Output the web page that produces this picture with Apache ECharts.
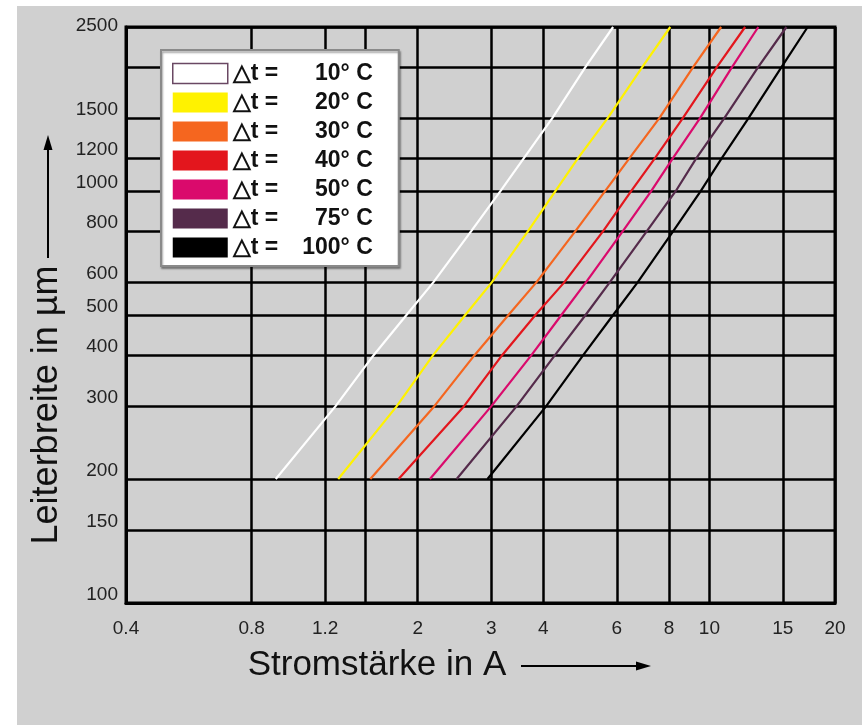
<!DOCTYPE html>
<html>
<head>
<meta charset="utf-8">
<script src="https://cdn.jsdelivr.net/npm/echarts@6/dist/echarts.min.js"></script>
<style>
  html, body { margin: 0; padding: 0; background: #fff; }
  #chart { width: 866px; height: 725px; }
</style>
</head>
<body>
<div id="chart"></div>
<script>
// Leiterbreite (µm) at which each curve is read
const widths = [200, 300, 400, 500, 600, 800, 1000, 1200, 1500, 2000, 2500];

// Stromstärke (A) per curve, same order as widths
const current10 = [0.914, 1.27, 1.57, 1.88, 2.18, 2.69, 3.16, 3.59, 4.20, 5.05, 5.88];
const current20 = [1.29, 1.78, 2.18, 2.60, 3.01, 3.68, 4.28, 4.84, 5.70, 6.91, 8.06];
const current30 = [1.54, 2.19, 2.74, 3.30, 3.85, 4.78, 5.63, 6.43, 7.58, 9.15, 10.67];
const current40 = [1.80, 2.58, 3.19, 3.83, 4.49, 5.57, 6.50, 7.40, 8.63, 10.43, 12.18];
const current50 = [2.14, 3.00, 3.75, 4.42, 5.06, 6.21, 7.26, 8.17, 9.49, 11.34, 13.1];
const current75 = [2.48, 3.45, 4.27, 5.05, 5.77, 7.09, 8.31, 9.30, 10.85, 13.1, 15.3];
const current100 = [2.94, 4.06, 4.99, 5.88, 6.73, 8.2, 9.54, 10.7, 12.4, 14.9, 17.2];

const deltaT = ['10', '20', '30', '40', '50', '75', '100'];
const currents = [current10, current20, current30, current40, current50, current75, current100];
const colors = ['#ffffff', '#fff200', '#f5661f', '#e3161d', '#da0a6c', '#552b4b', '#000000'];

// axis ticks
const xTicks = [0.4, 0.8, 1.2, 1.5, 2, 3, 4, 6, 8, 10, 15, 20];
const xLabels = [0.4, 0.8, 1.2, 2, 3, 4, 6, 8, 10, 15, 20];
const yTicks = [100, 150, 200, 300, 400, 500, 600, 800, 1000, 1200, 1500, 2000, 2500];
const yLabels = [100, 150, 200, 300, 400, 500, 600, 800, 1000, 1200, 1500, 2500];

const FONT = '"Liberation Sans", Arial, Helvetica, sans-serif';

const chart = echarts.init(document.getElementById('chart'));

const names = deltaT.map(d => '\u25B3t = ' + d + '\u00B0 C');

const series = currents.map((cur, i) => ({
  name: names[i],
  type: 'line',
  data: cur.map((c, j) => [c, widths[j]]),
  symbol: 'none',
  z: 5,
  lineStyle: { color: colors[i], width: 2.2 },
  itemStyle: { color: colors[i] }
}));

const option = {
  backgroundColor: '#ffffff',
  animation: false,
  graphic: [
    {
      type: 'rect', z: -10, silent: true,
      shape: { x: 17, y: 6, width: 845, height: 719 },
      style: { fill: '#d0d0d0' }
    },
    {
      type: 'text', x: 47, y: 405, rotation: Math.PI / 2,
      style: {
        text: 'Leiterbreite in \u00B5m', font: '36px ' + FONT, fill: '#111',
        align: 'center', verticalAlign: 'middle'
      }
    },
    {
      type: 'line', shape: { x1: 48, y1: 258, x2: 48, y2: 146 },
      style: { stroke: '#000', lineWidth: 2 }
    },
    {
      type: 'polygon', shape: { points: [[48, 135], [43.5, 150], [52.5, 150]] },
      style: { fill: '#000' }
    },
    {
      type: 'text', x: 377, y: 665,
      style: {
        text: 'Stromst\u00E4rke in A', font: '35px ' + FONT, fill: '#111',
        align: 'center', verticalAlign: 'middle'
      }
    },
    {
      type: 'line', shape: { x1: 521, y1: 666, x2: 640, y2: 666 },
      style: { stroke: '#000', lineWidth: 2 }
    },
    {
      type: 'polygon', shape: { points: [[651, 666], [636, 661.5], [636, 670.5]] },
      style: { fill: '#000' }
    }
  ],
  grid: {
    left: 126, right: 31, top: 27, bottom: 122,
    show: true, borderColor: '#000', borderWidth: 3,
    backgroundColor: 'transparent'
  },
  legend: {
    orient: 'vertical',
    left: 161, top: 50,
    padding: [12, 26, 7, 11],
    backgroundColor: '#ffffff',
    borderColor: '#8a8a8a', borderWidth: 2,
    shadowColor: 'rgba(0,0,0,0.35)', shadowBlur: 2, shadowOffsetX: 1, shadowOffsetY: 2,
    icon: 'rect',
    itemWidth: 55, itemHeight: 20, itemGap: 6, itemTextGap: 5,
    itemStyle: { borderWidth: 0 },
    data: names.map((n, i) => i === 0
      ? { name: n, itemStyle: { borderColor: '#6a4863', borderWidth: 1.5 } }
      : { name: n }),
    formatter: name => {
      const d = deltaT[names.indexOf(name)];
      return '{a|\u25B3t =}{b|' + d + '\u00B0 C}';
    },
    textStyle: {
      rich: {
        a: { fontSize: 23, fontWeight: 'bold', fontFamily: FONT, color: '#111', width: 58, lineHeight: 21 },
        b: { fontSize: 23, fontWeight: 'bold', fontFamily: FONT, color: '#111', width: 82, align: 'right', lineHeight: 21 }
      }
    }
  },
  xAxis: {
    type: 'log',
    min: 0.4, max: 20,
    axisLine: { show: true, lineStyle: { color: '#000', width: 3 } },
    axisTick: { show: false, customValues: xTicks },
    splitLine: { show: true, lineStyle: { color: '#000', width: 2.5 } },
    minorSplitLine: { show: false },
    axisLabel: {
      customValues: xLabels,
      margin: 16,
      fontSize: 19, fontFamily: FONT, color: '#222',
      formatter: v => String(+v.toFixed(2))
    }
  },
  yAxis: {
    type: 'log',
    min: 100, max: 2500,
    axisLine: { show: true, lineStyle: { color: '#000', width: 3 } },
    axisTick: { show: false, customValues: yTicks },
    splitLine: { show: true, lineStyle: { color: '#000', width: 2.5 } },
    axisLabel: {
      customValues: yLabels,
      margin: 8,
      fontSize: 19, fontFamily: FONT, color: '#222',
      verticalAlign: 'middle',
      formatter: v => v === 2500 ? '{t|2500}' : '{n|' + Math.round(v) + '}',
      rich: {
        t: { fontSize: 19, fontFamily: FONT, color: '#222', padding: [0, 0, 2, 0] },
        n: { fontSize: 19, fontFamily: FONT, color: '#222', padding: [0, 0, 17, 0] }
      }
    }
  },
  series: series
};

chart.setOption(option);
</script>
</body>
</html>
